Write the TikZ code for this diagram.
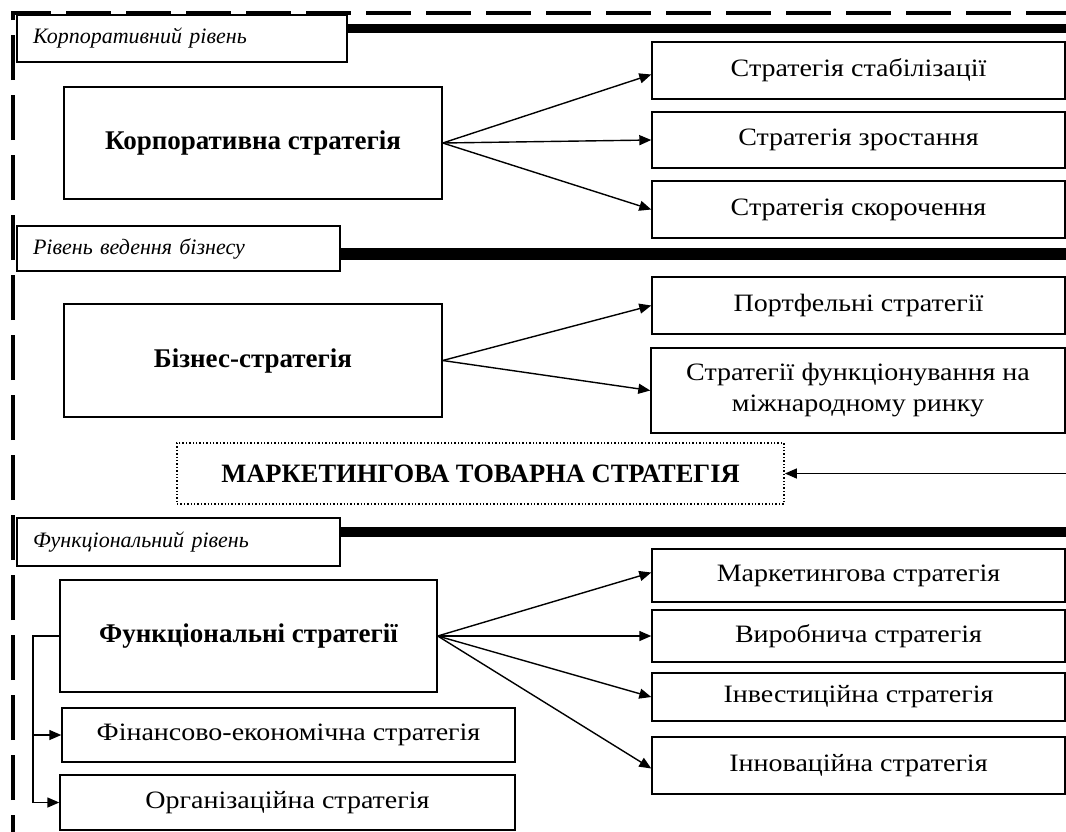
\documentclass[tikz,border=0pt]{standalone}
\usepackage{fontspec}
\setmainfont{Liberation Serif}
\newfontfamily\regfont[FakeStretch=1.12]{Liberation Serif}
\usetikzlibrary{arrows.meta}
\tikzset{
  box/.style={draw, line width=1.4pt, fill=white, inner sep=0pt, align=center,
    font=\regfont\fontsize{25}{31}\selectfont},
  bigbox/.style={box, font=\fontsize{27}{31}\selectfont\bfseries},
  lvl/.style={draw, line width=1.4pt, fill=white, inner xsep=16pt, inner ysep=0pt,
    align=left, font=\fontsize{22}{26}\selectfont\itshape},
  bar/.style={fill=black},
  arr/.style={line width=1.4pt, -{Triangle[length=12pt,width=10pt]}},
  frame/.style={line width=4pt, dash pattern=on 45pt off 15pt},
}
\begin{document}
\begin{tikzpicture}[x=1pt,y=-1pt]
\useasboundingbox (0,0) rectangle (1066,831);
\begin{scope}
\clip (0,0) rectangle (1066,831);
% dashed frame
\draw[frame] (13,860) -- (13,13) -- (1090,13);
% bars
\fill[bar] (338,24) rectangle (1070,33);
\fill[bar] (338,248) rectangle (1070,260);
\fill[bar] (338,527) rectangle (1070,537);

% level labels
\node[lvl, minimum width=330pt, minimum height=47pt, text width=298pt] (corpL) at (182,38.5) {Корпоративний рівень};
\node[lvl, minimum width=323pt, minimum height=45pt, text width=291pt] (busL) at (178.5,248.5) {Рівень ведення бізнесу};
\node[lvl, minimum width=323pt, minimum height=48pt, text width=291pt] (funL) at (178.5,542) {Функціональний рівень};

% corporate
\node[bigbox, minimum width=378pt, minimum height=112pt] (corp) at (253,143) {Корпоративна стратегія};
\node[box, minimum width=413pt, minimum height=57pt] (s1) at (858.5,70.5) {Стратегія стабілізації};
\node[box, minimum width=413pt, minimum height=56pt] (s2) at (858.5,140) {Стратегія зростання};
\node[box, minimum width=413pt, minimum height=57pt] (s3) at (858.5,209.5) {Стратегія скорочення};
\draw[arr] (corp.east) -- ([yshift=-4pt]s1.west);
\draw[arr] (corp.east) -- (s2.west);
\draw[arr] (corp.east) -- (s3.west);

% business
\node[bigbox, minimum width=378pt, minimum height=113pt] (bus) at (253,360.5) {Бізнес-стратегія};
\node[box, minimum width=413pt, minimum height=57pt] (p1) at (858.5,305.5) {Портфельні стратегії};
\node[box, minimum width=414pt, minimum height=85pt] (p2) at (858,390.5) {Стратегії функціонування на\\міжнародному ринку};
\draw[arr] (bus.east) -- (p1.west);
\draw[arr] (bus.east) -- (p2.west);

% marketing product strategy
\node[box, dotted, line width=1.8pt, minimum width=607pt, minimum height=61pt,
  font=\fontsize{26.5}{30}\selectfont\bfseries] (mkt) at (480.5,473.5) {МАРКЕТИНГОВА ТОВАРНА СТРАТЕГІЯ};
\coordinate (mktin) at (1070,473.5);
\draw[arr] (mktin) -- (mkt.east);

% functional
\node[bigbox, minimum width=377pt, minimum height=112pt] (fun) at (248.5,636) {Функціональні стратегії};
\node[box, minimum width=413pt, minimum height=53pt] (f1) at (858.5,575.5) {Маркетингова стратегія};
\node[box, minimum width=413pt, minimum height=52pt] (f2) at (858.5,636) {Виробнича стратегія};
\node[box, minimum width=413pt, minimum height=48pt] (f3) at (858.5,697) {Інвестиційна стратегія};
\node[box, minimum width=413pt, minimum height=57pt] (f4) at (858.5,765.5) {Інноваційна стратегія};
\draw[arr] (fun.east) -- ([yshift=3pt]f1.west);
\draw[arr] (fun.east) -- (f2.west);
\draw[arr] (fun.east) -- (f3.west);
\draw[arr] (fun.east) -- ([yshift=-3pt]f4.west);

\node[box, minimum width=453pt, minimum height=54pt] (fe) at (288.5,735) {Фінансово-економічна стратегія};
\node[box, minimum width=455pt, minimum height=55pt] (org) at (287.5,802.5) {Організаційна стратегія};
\coordinate (jn) at (33,636);
\draw[line width=1.4pt] (fun.west) -- (jn) -- (jn |- org.west);
\draw[arr] (jn |- fe.west) -- (fe.west);
\draw[arr] (jn |- org.west) -- (org.west);
\end{scope}
\end{tikzpicture}
\end{document}
